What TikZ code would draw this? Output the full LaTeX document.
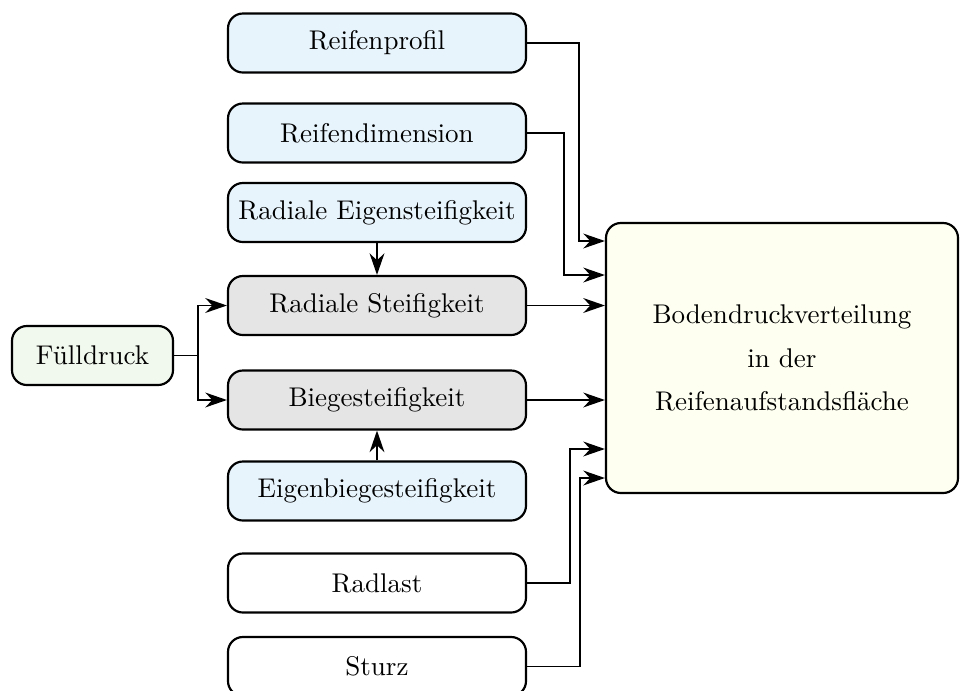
\documentclass[tikz,border=0pt]{standalone}
\usetikzlibrary{arrows.meta}
\definecolor{boxblue}{RGB}{232,244,252}
\definecolor{boxgrey}{RGB}{229,229,229}
\definecolor{boxgreen}{RGB}{241,248,237}
\definecolor{boxyellow}{RGB}{254,255,240}
\newcommand\px{0.013cm}
\begin{document}
\begin{tikzpicture}[x=\px, y=-\px,
  box/.style={draw, line width=0.8pt, rounded corners=5.5pt,
    minimum width=298*\px, minimum height=59*\px, inner sep=0pt, align=center},
  conn/.style={line width=0.55pt, -{Stealth[length=8pt,width=5.5pt]}},
  plain/.style={line width=0.55pt}]
\useasboundingbox (0,0) rectangle (960,691);

% input quantities
\node[box, fill=boxblue] (prof) at (377,43) {Reifenprofil};
\node[box, fill=boxblue] (dim) at (377,133) {Reifendimension};
\node[box, fill=boxblue] (reig) at (377,212.5) {Radiale Eigensteifigkeit};
\node[box, fill=boxgrey] (rst) at (377,305.5) {Radiale Steifigkeit};
\node[box, fill=boxgrey] (bst) at (377,400) {Biegesteifigkeit};
\node[box, fill=boxblue] (ebst) at (377,491) {Eigenbiegesteifigkeit};
\node[box, fill=white] (rad) at (377,583) {Radlast};
\node[box, fill=white] (stu) at (377,666.5) {Sturz};
\node[box, fill=boxgreen, minimum width=161*\px] (full) at (92.5,355.5) {Fülldruck};

% result
\node[box, fill=boxyellow, minimum width=352*\px, minimum height=270*\px] (big) at (782,358)
  {Bodendruckverteilung\\[4.2pt] in der\\[4.2pt] Reifenaufstandsfläche};

% inflation pressure feeds both stiffnesses
\draw[plain] (full.east) -- ++(24,0) coordinate (split);
\draw[conn] (split) |- (rst.west);
\draw[conn] (split) |- (bst.west);

% intrinsic stiffnesses
\draw[conn] (reig.south) -- (rst.north);
\draw[conn] (ebst.north) -- (bst.south);

% everything into the pressure distribution
\draw[conn] (prof.east) -- ++(52,0) |- (big.west |- 0,241);
\draw[conn] (dim.east) -- ++(37,0) |- (big.west |- 0,275);
\draw[conn] (rst.east) -- (big.west |- rst.east);
\draw[conn] (bst.east) -- (big.west |- bst.east);
\draw[conn] (rad.east) -- ++(43,0) |- (big.west |- 0,449);
\draw[conn] (stu.east) -- ++(53,0) |- (big.west |- 0,478);
\end{tikzpicture}
\end{document}
